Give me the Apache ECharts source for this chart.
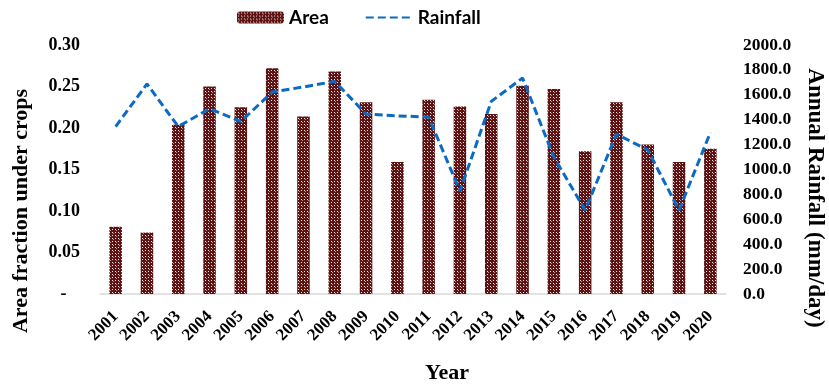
<!DOCTYPE html>
<html><head><meta charset="utf-8">
<script src="https://cdn.jsdelivr.net/npm/echarts@6/dist/echarts.min.js"></script>
<style>html,body{margin:0;padding:0;background:#fff}#c{width:829px;height:385px}</style>
</head><body><div id="c"></div>
<script>
const years = ['2001','2002','2003','2004','2005','2006','2007','2008','2009','2010','2011','2012','2013','2014','2015','2016','2017','2018','2019','2020'];
const areaFraction = [0.081,0.074,0.204,0.250,0.225,0.272,0.214,0.268,0.231,0.159,0.234,0.226,0.217,0.251,0.247,0.172,0.231,0.180,0.159,0.175];
const rainfall = [1345,1687,1345,1488,1385,1622,1663,1708,1445,1431,1421,827,1547,1735,1100,673,1284,1157,673,1297];
const leftTicks = {min:0, max:0.30, interval:0.05};
const rightTicks = {min:0, max:2000, interval:200};
const titles = {x:'Year', left:'Area fraction under crops', right:'Annual Rainfall (mm/day)'};

function makePattern(){
  const c = document.createElement('canvas');
  c.width = 6; c.height = 6;
  const g = c.getContext('2d');
  g.fillStyle = '#5e1212'; g.fillRect(0,0,6,6);
  g.fillStyle = '#f3e6e6';
  g.fillRect(1,1,1,1); g.fillRect(4,1,1,1);
  g.fillRect(1,4,1,1); g.fillRect(4,4,1,1);
  g.fillStyle = '#b89090';
  g.fillRect(2,2,1,1); g.fillRect(5,5,1,1);
  return c;
}
const pattern = {image: makePattern(), repeat: 'repeat'};
const serif = '"Liberation Serif", "Times New Roman", serif';

const chart = echarts.init(document.getElementById('c'), null, {renderer:'canvas'});
chart.setOption({
  animation:false,
  legend:{
    top:3, left:232, itemWidth:47, itemHeight:12, itemGap:36,
    textStyle:{fontFamily:'Lato, "Liberation Sans", sans-serif', fontWeight:'bold', fontSize:19, color:'#000'},
    data:[{name:'Area'},{name:'Rainfall', itemStyle:{opacity:0}}]
  },
  grid:{left:100, right:103, top:45, bottom:91},
  xAxis:{
    type:'category', data:years, boundaryGap:true,
    axisLine:{lineStyle:{color:'#d9d9d9', width:1.5}},
    axisTick:{show:false},
    axisLabel:{rotate:45, margin:20, fontFamily:serif, fontWeight:'bold', fontSize:17, color:'#000', interval:0}
  },
  yAxis:[{
    type:'value', min:leftTicks.min, max:leftTicks.max, interval:leftTicks.interval,
    splitLine:{show:false}, axisLine:{show:false}, axisTick:{show:false},
    axisLabel:{margin:20, fontFamily:serif, fontWeight:'bold', fontSize:18, color:'#000',
      formatter:v=> Math.abs(v)<1e-9 ? '-   ' : v.toFixed(2)}
  },{
    type:'value', min:rightTicks.min, max:rightTicks.max, interval:rightTicks.interval,
    splitLine:{show:false}, axisLine:{show:false}, axisTick:{show:false},
    axisLabel:{margin:17, fontFamily:serif, fontWeight:'bold', fontSize:17.5, color:'#000',
      formatter:v=> v.toFixed(1)}
  }],
  graphic:[
    {type:'text', x:447, y:373, style:{text:titles.x, align:'center', verticalAlign:'middle',
      font:'bold 22px "Liberation Serif", serif', fill:'#000'}},
    {type:'text', x:21, y:211, rotation:Math.PI/2, style:{text:titles.left, align:'center', verticalAlign:'middle',
      font:'bold 22px "Liberation Serif", serif', fill:'#000'}},
    {type:'text', x:815, y:198, rotation:-Math.PI/2, style:{text:titles.right, align:'center', verticalAlign:'middle',
      font:'bold 23px "Liberation Serif", serif', fill:'#000'}}
  ],
  series:[{
    name:'Area', type:'bar', data:areaFraction, barWidth:'40%',
    itemStyle:{color:pattern}
  },{
    name:'Rainfall', type:'line', yAxisIndex:1, data:rainfall,
    symbol:'none', smooth:false,
    lineStyle:{color:'#0a6ac4', width:3, type:[8,4]},
    itemStyle:{color:'#0a6ac4'}
  }]
});
</script></body></html>
